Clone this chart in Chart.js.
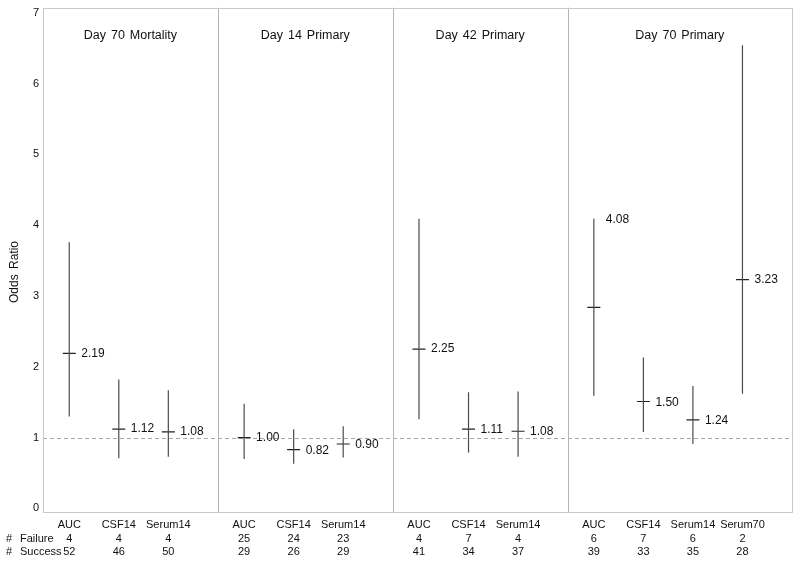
<!DOCTYPE html>
<html>
<head>
<meta charset="utf-8">
<script src="https://cdn.jsdelivr.net/npm/chart.js@4.4.1/dist/chart.umd.min.js"></script>
<style>
  html, body { margin: 0; padding: 0; background: #fff; }
</style>
</head>
<body>
<canvas id="myChart" width="800" height="562"></canvas>
<script>
// DATA
var panels = ['Day 70 Mortality', 'Day 14 Primary', 'Day 42 Primary', 'Day 70 Primary'];
var categories = [
  ['AUC', 'CSF14', 'Serum14'],
  ['AUC', 'CSF14', 'Serum14'],
  ['AUC', 'CSF14', 'Serum14'],
  ['AUC', 'CSF14', 'Serum14', 'Serum70']
];
var estimate = [
  [2.19, 1.12, 1.08],
  [1.00, 0.83, 0.91],
  [2.25, 1.12, 1.09],
  [2.84, 1.51, 1.25, 3.23]
];
var lower = [
  [1.30, 0.71, 0.73],
  [0.70, 0.63, 0.72],
  [1.26, 0.79, 0.73],
  [1.59, 1.08, 0.91, 1.62]
];
var upper = [
  [3.76, 1.82, 1.67],
  [1.48, 1.12, 1.16],
  [4.09, 1.64, 1.65],
  [4.09, 2.13, 1.73, 6.54]
];
var labels = [
  ['2.19', '1.12', '1.08'],
  ['1.00', '0.82', '0.90'],
  ['2.25', '1.11', '1.08'],
  ['4.08', '1.50', '1.24', '3.23']
];
var failures = [
  [4, 4, 4],
  [25, 24, 23],
  [4, 7, 4],
  [6, 7, 6, 2]
];
var successes = [
  [52, 46, 50],
  [29, 26, 29],
  [41, 34, 37],
  [39, 33, 35, 28]
];
var yTicks = [0, 1, 2, 3, 4, 5, 6, 7];
var refLine = 1;

// x slots: each panel has half a slot before its first category and one after the last
var lead = 0.53, tail = 1;
var panelStart = [];
var xPos = [];
var pos = 0;
for (var p = 0; p < panels.length; p++) {
  panelStart.push(pos);
  var row = [];
  for (var c = 0; c < categories[p].length; c++) row.push(pos + lead + c);
  xPos.push(row);
  pos += lead + (categories[p].length - 1) + tail;
}
var xMax = pos;

var ciData = [], estData = [];
for (var p = 0; p < panels.length; p++) {
  for (var c = 0; c < categories[p].length; c++) {
    ciData.push({x: xPos[p][c], y: lower[p][c]});
    ciData.push({x: xPos[p][c], y: upper[p][c]});
    ciData.push({x: xPos[p][c], y: null});
    estData.push({x: xPos[p][c], y: estimate[p][c]});
  }
}

var FONT = '"Liberation Sans", Arial, sans-serif';

var decorPlugin = {
  id: 'decor',
  beforeDatasetsDraw: function(chart) {
    var ctx = chart.ctx, a = chart.chartArea;
    var xs = chart.scales.x, ys = chart.scales.y;
    ctx.save();
    // reference line
    var yr = Math.round(ys.getPixelForValue(refLine)) + 0.5;
    ctx.strokeStyle = '#a8a8a8';
    ctx.lineWidth = 1;
    ctx.setLineDash([4, 3]);
    ctx.beginPath();
    ctx.moveTo(a.left, yr);
    ctx.lineTo(a.right, yr);
    ctx.stroke();
    ctx.setLineDash([]);
    // panel dividers
    ctx.strokeStyle = '#b4b4b4';
    for (var p = 1; p < panels.length; p++) {
      var xd = Math.round(xs.getPixelForValue(panelStart[p])) + 0.5;
      ctx.beginPath();
      ctx.moveTo(xd, a.top);
      ctx.lineTo(xd, a.bottom);
      ctx.stroke();
    }
    // frame
    ctx.strokeStyle = '#c8c8c8';
    ctx.strokeRect(Math.round(a.left) + 0.5, Math.round(a.top) + 0.5,
      Math.round(a.right - a.left), Math.round(a.bottom - a.top));
    ctx.restore();
  },
  afterDatasetsDraw: function(chart) {
    var ctx = chart.ctx, a = chart.chartArea;
    var xs = chart.scales.x, ys = chart.scales.y;
    ctx.save();
    ctx.fillStyle = '#111';
    // y tick labels
    ctx.font = '11px ' + FONT;
    ctx.textAlign = 'right';
    ctx.textBaseline = 'middle';
    yTicks.forEach(function(t) {
      ctx.fillText(String(t), a.left - 4, ys.getPixelForValue(t));
    });
    // y title
    ctx.save();
    ctx.font = '12px ' + FONT;
    ctx.translate(15, 272);
    ctx.rotate(-Math.PI / 2);
    ctx.textAlign = 'center';
    if ('wordSpacing' in ctx) ctx.wordSpacing = '2px';
    ctx.fillText('Odds Ratio', 0, 0);
    ctx.restore();
    // panel titles
    ctx.font = '12.5px ' + FONT;
    ctx.textAlign = 'center';
    if ('wordSpacing' in ctx) ctx.wordSpacing = '1.5px';
    for (var p = 0; p < panels.length; p++) {
      var x0 = xs.getPixelForValue(panelStart[p]);
      var x1 = p + 1 < panels.length ? xs.getPixelForValue(panelStart[p + 1]) : a.right;
      ctx.fillText(panels[p], (x0 + x1) / 2, 36);
    }
    if ('wordSpacing' in ctx) ctx.wordSpacing = '0px';
    // value labels
    ctx.font = '12px ' + FONT;
    ctx.textAlign = 'left';
    for (var p = 0; p < panels.length; p++) {
      for (var c = 0; c < categories[p].length; c++) {
        ctx.fillText(labels[p][c], xs.getPixelForValue(xPos[p][c]) + 12,
          ys.getPixelForValue(parseFloat(labels[p][c])));
      }
    }
    // category names and counts
    ctx.font = '11px ' + FONT;
    ctx.textAlign = 'center';
    for (var p = 0; p < panels.length; p++) {
      for (var c = 0; c < categories[p].length; c++) {
        var cx = xs.getPixelForValue(xPos[p][c]);
        ctx.fillText(categories[p][c], cx, 525);
        ctx.fillText(String(failures[p][c]), cx, 539);
        ctx.fillText(String(successes[p][c]), cx, 552);
      }
    }
    ctx.textAlign = 'left';
    ctx.fillText('#', 6, 539);
    ctx.fillText('Failure', 20, 539);
    ctx.fillText('#', 6, 552);
    ctx.fillText('Success', 20, 552);
    ctx.restore();
  }
};

var ctx = document.getElementById('myChart').getContext('2d');
var myChart = new Chart(ctx, {
  type: 'scatter',
  data: {
    datasets: [{
      label: 'CI',
      type: 'line',
      data: ciData,
      showLine: true,
      spanGaps: false,
      borderColor: '#4a4a4a',
      borderWidth: 1.2,
      pointRadius: 0,
      fill: false
    }, {
      label: 'Estimate',
      data: estData,
      pointStyle: 'line',
      pointRadius: 6.5,
      pointBorderColor: '#222',
      pointBorderWidth: 1.2,
      pointHoverRadius: 6.5
    }]
  },
  options: {
    responsive: false,
    animation: false,
    events: [],
    layout: { padding: { left: 43, right: 8, top: 7, bottom: 50 } },
    plugins: { legend: { display: false }, tooltip: { enabled: false } },
    scales: {
      x: { type: 'linear', min: 0, max: xMax, display: false },
      y: { type: 'linear', min: -0.05, max: 7.07, display: false }
    }
  },
  plugins: [decorPlugin]
});
</script>
</body>
</html>
